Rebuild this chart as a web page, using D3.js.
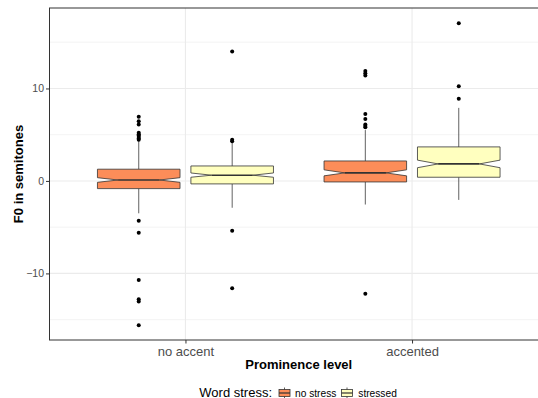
<!DOCTYPE html>
<html>
<head>
<meta charset="utf-8">
<script src="https://cdnjs.cloudflare.com/ajax/libs/d3/7.8.5/d3.min.js"></script>
<style>
  body { margin: 0; background: #fff; }
  text { font-family: "Liberation Sans", Arial, sans-serif; }
</style>
</head>
<body>
<script>
//sizes of the whole picture and the plot panel
var w = 538;
var h = 398;
var panel = { left: 49.5, right: 548, top: 8, bottom: 340 };

//data
var categories = ["no accent", "accented"];
var series = ["no stress", "stressed"];
var colors = ["#fc8d59", "#ffffbf"];
var yTicks = [-10, 0, 10];
var yMinor = [-15, -5, 5, 15];

//one entry per box: no accent/no stress, no accent/stressed, accented/no stress, accented/stressed
var boxCategory = ["no accent", "no accent", "accented", "accented"];
var boxSeries = ["no stress", "stressed", "no stress", "stressed"];
var q1 = [-0.83, -0.32, -0.11, 0.40];
var median = [0.10, 0.62, 0.87, 1.84];
var q3 = [1.27, 1.62, 2.16, 3.68];
var whiskerLow = [-3.5, -2.9, -2.55, -2.05];
var whiskerHigh = [4.3, 4.1, 5.5, 7.9];
var notchLow = [-0.15, 0.40, 0.55, 1.43];
var notchHigh = [0.35, 0.86, 1.20, 2.25];
var outliers = [
  [4.45, 4.6, 4.75, 4.9, 5.05, 5.2, 6.1, 6.45, 6.95, -4.3, -5.6, -10.7, -12.8, -13.05, -15.6],
  [4.3, 4.45, 14.0, -5.4, -11.6],
  [5.8, 5.95, 6.1, 6.7, 7.25, 11.4, 11.65, 11.9, -12.2],
  [8.9, 10.25, 17.05]
];

var boxes = boxCategory.map(function(c, i) {
  return {
    cat: c, ser: boxSeries[i], q1: q1[i], med: median[i], q3: q3[i],
    lo: whiskerLow[i], hi: whiskerHigh[i], nlo: notchLow[i], nhi: notchHigh[i],
    out: outliers[i]
  };
});

var xScale = d3.scalePoint()
  .domain(categories)
  .range([panel.left, panel.right])
  .padding(0.6);

var dodge = d3.scaleBand()
  .domain(series)
  .range([-0.4 * xScale.step(), 0.4 * xScale.step()])
  .paddingInner(0.06);

var yScale = d3.scaleLinear()
  .domain([-17.2, 18.7])
  .range([panel.bottom, panel.top]);

var fill = d3.scaleOrdinal().domain(series).range(colors);

var svg = d3.select("body")
  .append("svg")
  .attr("width", w)
  .attr("height", h);

svg.append("defs").append("clipPath")
  .attr("id", "clip")
  .append("rect")
  .attr("x", panel.left)
  .attr("y", panel.top)
  .attr("width", panel.right - panel.left)
  .attr("height", panel.bottom - panel.top);

var plot = svg.append("g").attr("clip-path", "url(#clip)");

//grid lines
plot.selectAll("line.minor")
  .data(yMinor)
  .enter()
  .append("line")
  .attr("class", "minor")
  .attr("x1", panel.left)
  .attr("x2", panel.right)
  .attr("y1", function(d) { return yScale(d); })
  .attr("y2", function(d) { return yScale(d); })
  .attr("stroke", "#f0f0f0")
  .attr("stroke-width", 0.8);

plot.selectAll("line.major")
  .data(yTicks)
  .enter()
  .append("line")
  .attr("class", "major")
  .attr("x1", panel.left)
  .attr("x2", panel.right)
  .attr("y1", function(d) { return yScale(d); })
  .attr("y2", function(d) { return yScale(d); })
  .attr("stroke", "#ebebeb")
  .attr("stroke-width", 1.1);

plot.selectAll("line.vmajor")
  .data(categories)
  .enter()
  .append("line")
  .attr("class", "vmajor")
  .attr("x1", function(d) { return xScale(d); })
  .attr("x2", function(d) { return xScale(d); })
  .attr("y1", panel.top)
  .attr("y2", panel.bottom)
  .attr("stroke", "#ebebeb")
  .attr("stroke-width", 1.1);

//boxes
var g = plot.selectAll("g.box")
  .data(boxes)
  .enter()
  .append("g")
  .attr("class", "box")
  .attr("transform", function(d) {
    return "translate(" + (xScale(d.cat) + dodge(d.ser) + dodge.bandwidth() / 2) + ",0)";
  });

var bw = dodge.bandwidth() * 0.94;
var notchIn = bw * 0.25;

g.append("line")
  .attr("x1", 0).attr("x2", 0)
  .attr("y1", function(d) { return yScale(d.hi); })
  .attr("y2", function(d) { return yScale(d.q3); })
  .attr("stroke", "#3a3a3a")
  .attr("stroke-width", 0.8);

g.append("line")
  .attr("x1", 0).attr("x2", 0)
  .attr("y1", function(d) { return yScale(d.q1); })
  .attr("y2", function(d) { return yScale(d.lo); })
  .attr("stroke", "#3a3a3a")
  .attr("stroke-width", 0.8);

g.append("path")
  .attr("d", function(d) {
    var l = -bw / 2, r = bw / 2;
    var pts = [
      [l, yScale(d.q3)], [l, yScale(d.nhi)], [l + notchIn, yScale(d.med)],
      [l, yScale(d.nlo)], [l, yScale(d.q1)], [r, yScale(d.q1)],
      [r, yScale(d.nlo)], [r - notchIn, yScale(d.med)], [r, yScale(d.nhi)],
      [r, yScale(d.q3)]
    ];
    return d3.line()(pts) + "Z";
  })
  .attr("fill", function(d) { return fill(d.ser); })
  .attr("stroke", "#333")
  .attr("stroke-width", 0.8);

g.append("line")
  .attr("x1", -bw / 2 + notchIn)
  .attr("x2", bw / 2 - notchIn)
  .attr("y1", function(d) { return yScale(d.med); })
  .attr("y2", function(d) { return yScale(d.med); })
  .attr("stroke", "#333")
  .attr("stroke-width", 1.6);

g.selectAll("circle")
  .data(function(d) { return d.out; })
  .enter()
  .append("circle")
  .attr("cx", 0)
  .attr("cy", function(d) { return yScale(d); })
  .attr("r", 2)
  .attr("fill", "#000");

//panel border
svg.append("rect")
  .attr("x", panel.left)
  .attr("y", panel.top)
  .attr("width", panel.right - panel.left)
  .attr("height", panel.bottom - panel.top)
  .attr("fill", "none")
  .attr("stroke", "#333")
  .attr("stroke-width", 1);

//axes
var yAxis = svg.append("g")
  .attr("transform", "translate(" + panel.left + ",0)")
  .call(d3.axisLeft(yScale).tickValues(yTicks).tickSize(3.5).tickPadding(2)
    .tickFormat(function(d) { return d < 0 ? "\u2212" + Math.abs(d) : d; }));
yAxis.select(".domain").remove();
yAxis.selectAll("line").attr("stroke", "#333");
yAxis.selectAll("text")
  .attr("fill", "#4d4d4d")
  .style("font-size", "10.5px")
  .style("font-family", "Liberation Sans, Arial, sans-serif");

var xAxis = svg.append("g")
  .attr("transform", "translate(0," + panel.bottom + ")")
  .call(d3.axisBottom(xScale).tickSize(3.5).tickPadding(3));
xAxis.select(".domain").remove();
xAxis.selectAll("line").attr("stroke", "#333");
xAxis.selectAll("text")
  .attr("fill", "#4d4d4d")
  .style("font-size", "13px")
  .style("font-family", "Liberation Sans, Arial, sans-serif");

//axis titles
svg.append("text")
  .text("F0 in semitones")
  .attr("transform", "translate(22.5," + ((panel.top + panel.bottom) / 2) + ") rotate(-90)")
  .attr("text-anchor", "middle")
  .attr("font-size", "13px")
  .attr("font-weight", "bold");

svg.append("text")
  .text("Prominence level")
  .attr("x", (panel.left + panel.right) / 2)
  .attr("y", 368.5)
  .attr("text-anchor", "middle")
  .attr("font-size", "13px")
  .attr("font-weight", "bold");

//legend
var legendY = 396.5;
svg.append("text")
  .text("Word stress:")
  .attr("x", 199.3)
  .attr("y", legendY)
  .attr("font-size", "13px")
  .attr("fill", "#000");

var keyX = [279, 341.5];
var labelX = [295, 358.3];

var keys = svg.selectAll("g.key")
  .data(series)
  .enter()
  .append("g")
  .attr("class", "key")
  .attr("transform", function(d, i) { return "translate(" + keyX[i] + ",0)"; });

keys.append("line")
  .attr("x1", 5.5).attr("x2", 5.5)
  .attr("y1", 387.5).attr("y2", 398)
  .attr("stroke", "#333")
  .attr("stroke-width", 0.8);

keys.append("rect")
  .attr("x", 0)
  .attr("y", 389.5)
  .attr("width", 11)
  .attr("height", 7)
  .attr("fill", function(d) { return fill(d); })
  .attr("stroke", "#333")
  .attr("stroke-width", 0.8);

keys.append("line")
  .attr("x1", 0).attr("x2", 11)
  .attr("y1", 393).attr("y2", 393)
  .attr("stroke", "#333")
  .attr("stroke-width", 1.2);

svg.selectAll("text.keylabel")
  .data(series)
  .enter()
  .append("text")
  .attr("class", "keylabel")
  .text(function(d) { return d; })
  .attr("x", function(d, i) { return labelX[i]; })
  .attr("y", legendY)
  .attr("font-size", "10.2px")
  .attr("fill", "#000");
</script>
</body>
</html>
